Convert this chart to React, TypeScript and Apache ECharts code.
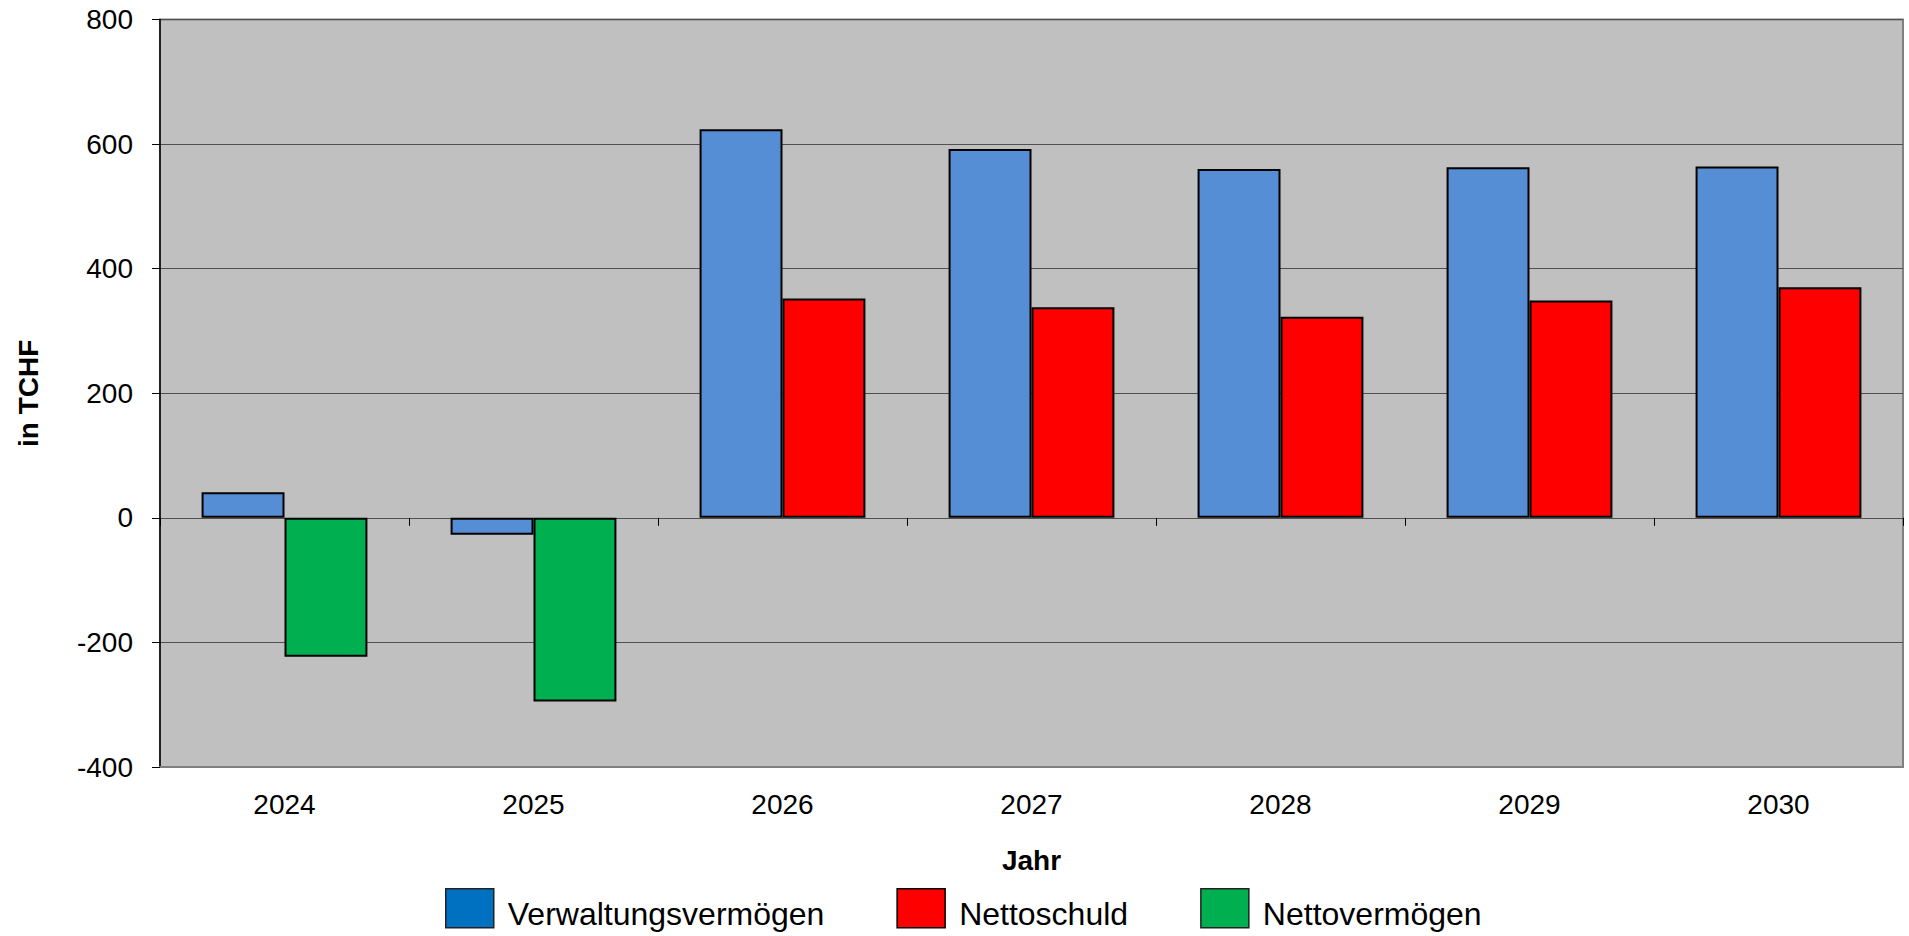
import React, { useEffect, useRef } from "react";
import * as echarts from "echarts";

const years = ["2024", "2025", "2026", "2027", "2028", "2029", "2030"];
const verwaltungsvermoegen = [41, -27, 624, 592, 560, 563, 564];
const nettoschuld = [null, null, 352, 338, 323, 349, 370];
const nettovermoegen = [-223, -295, null, null, null, null, null];
const seriesNames = ["Verwaltungsvermögen", "Nettoschuld", "Nettovermögen"];

const FONT = "'Liberation Sans', Arial, Helvetica, sans-serif";

export default function App() {
  const ref = useRef<HTMLDivElement>(null);
  useEffect(() => {
    if (!ref.current) return;
    const chart = echarts.init(ref.current, null, { renderer: "svg" });
    const barBorder = { borderColor: "#000000", borderWidth: 2 };
    chart.setOption({
      animation: false,
      backgroundColor: "#ffffff",
      textStyle: { fontFamily: FONT },
      grid: {
        left: 160,
        right: 6,
        top: 19.5,
        bottom: 169,
        show: true,
        backgroundColor: "#C0C0C0",
        borderColor: "#808080",
        borderWidth: 2,
        containLabel: false,
      },
      legend: {
        left: 445,
        top: 888,
        padding: 0,
        itemWidth: 48,
        itemHeight: 39,
        itemGap: 72,
        icon: "rect",
        formatter: (name: string) => `{t|${name}}`,
        textStyle: {
          fontFamily: FONT,
          fontSize: 32,
          color: "#000",
          rich: {
            t: {
              fontFamily: FONT,
              fontSize: 32,
              color: "#000",
              padding: [12, 0, 0, 9],
            },
          },
        },
        data: [
          { name: seriesNames[0], itemStyle: { color: "#0070C0", borderColor: "#222", borderWidth: 1.5 } },
          { name: seriesNames[1], itemStyle: { color: "#FF0000", borderColor: "#000", borderWidth: 1.5 } },
          { name: seriesNames[2], itemStyle: { color: "#00B050", borderColor: "#222", borderWidth: 1.5 } },
        ],
      },
      xAxis: [
        {
          type: "category",
          data: years,
          position: "bottom",
          axisLine: { onZero: false, show: true, lineStyle: { color: "#808080", width: 2 } },
          axisTick: { show: false },
          axisLabel: { fontSize: 28, color: "#000", margin: 23, fontFamily: FONT },
          name: "Jahr",
          nameLocation: "middle",
          nameGap: 79,
          nameTextStyle: { fontSize: 28, fontWeight: "bold", color: "#000", fontFamily: FONT },
          splitLine: { show: false },
        },
        {
          type: "category",
          data: years,
          position: "bottom",
          axisLine: { onZero: true, show: true, lineStyle: { color: "#505050", width: 1 } },
          axisTick: { show: true, length: 8, lineStyle: { color: "#000", width: 1 } },
          axisLabel: { show: false },
          splitLine: { show: false },
        },
      ],
      yAxis: {
        type: "value",
        min: -400,
        max: 800,
        interval: 200,
        axisLine: { show: true, lineStyle: { color: "#000", width: 1.5 } },
        axisTick: { show: true, length: 8, lineStyle: { color: "#000", width: 1 } },
        axisLabel: { fontSize: 28, color: "#000", margin: 27, fontFamily: FONT },
        splitLine: { show: true, lineStyle: { color: "#505050", width: 1 } },
        name: "in TCHF",
        nameLocation: "middle",
        nameGap: 118,
        nameTextStyle: { fontSize: 28, fontWeight: "bold", color: "#000", fontFamily: FONT },
      },
      series: [
        {
          name: seriesNames[0],
          type: "bar",
          data: verwaltungsvermoegen,
          barGap: "0%",
          barCategoryGap: "33.4%",
          itemStyle: { color: "#558ED5", ...barBorder },
        },
        {
          name: seriesNames[1],
          type: "bar",
          stack: "second",
          data: nettoschuld,
          barGap: "0%",
          barCategoryGap: "33.4%",
          itemStyle: { color: "#FF0000", ...barBorder },
        },
        {
          name: seriesNames[2],
          type: "bar",
          stack: "second",
          data: nettovermoegen,
          barGap: "0%",
          barCategoryGap: "33.4%",
          itemStyle: { color: "#00B050", ...barBorder },
        },
      ],
    });
    return () => chart.dispose();
  }, []);
  return (
    <div
      ref={ref}
      style={{ position: "fixed", left: 0, top: 0, width: 1909, height: 936 }}
    />
  );
}
